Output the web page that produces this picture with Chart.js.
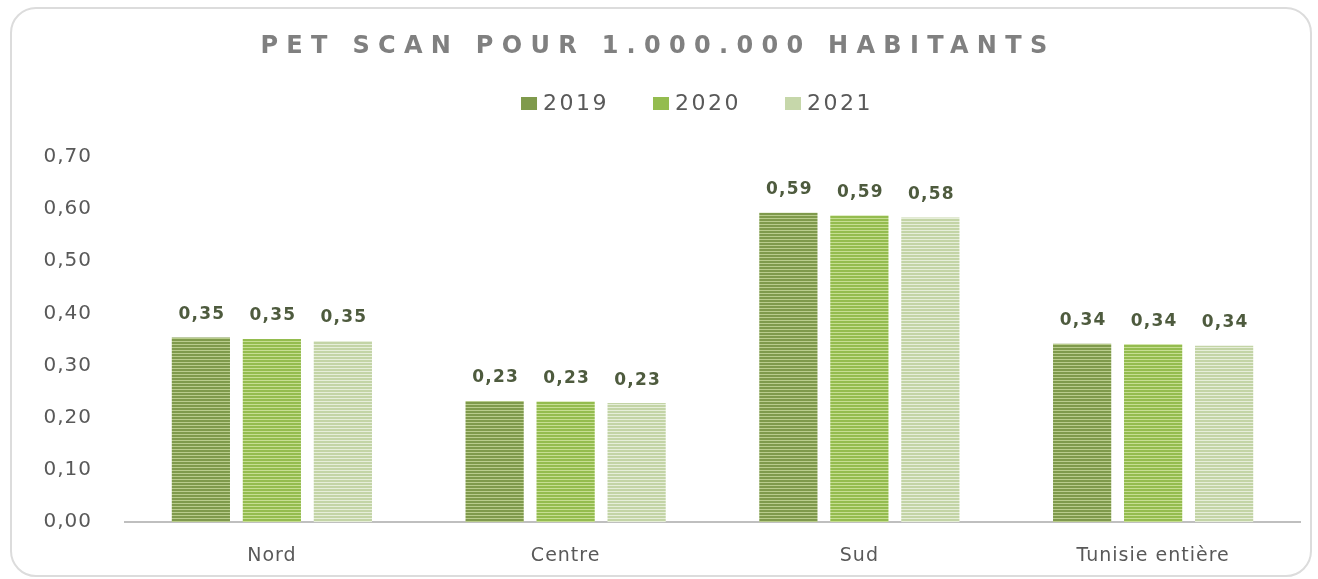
<!DOCTYPE html>
<html>
<head>
<meta charset="utf-8">
<script src="https://cdn.jsdelivr.net/npm/chart.js@4"></script>
<style>
  html, body { margin: 0; padding: 0; background: #fff; }
  #frame {
    position: absolute; left: 10px; top: 7px; width: 1298px; height: 566px;
    border: 2px solid #dcdcdc; border-radius: 26px;
  }
  #chart { position: absolute; left: 0; top: 0; }
</style>
</head>
<body>
<div id="frame"></div>
<canvas id="chart" width="1318" height="579"></canvas>
<script>
// chart data
var titleText = 'PET SCAN POUR 1.000.000 HABITANTS';
var categories = ['Nord', 'Centre', 'Sud', 'Tunisie entière'];
var years = ['2019', '2020', '2021'];
var values2019 = [0.354, 0.232, 0.593, 0.342];
var values2020 = [0.351, 0.231, 0.588, 0.341];
var values2021 = [0.347, 0.228, 0.584, 0.338];
var yTicks = [0, 0.1, 0.2, 0.3, 0.4, 0.5, 0.6, 0.7];

// striped fill like the Excel bars
function stripes(dark, light) {
  var c = document.createElement('canvas');
  c.width = 4; c.height = 3;
  var g = c.getContext('2d');
  g.fillStyle = dark; g.fillRect(0, 0, 4, 2);
  g.fillStyle = light; g.fillRect(0, 2, 4, 1);
  return g.createPattern(c, 'repeat');
}

var swatches = ['#7f9a4c', '#94bc4f', '#c6d7aa'];
var fills = [
  stripes('#7f9a4c', '#b9cc8c'),
  stripes('#94bc4f', '#c6de92'),
  stripes('#c3d4a6', '#e6eed9')
];

function fmt(v) { return v.toFixed(2).replace('.', ','); }

// title, legend and value labels drawn by hand (letter spacing)
var decorations = {
  id: 'decorations',
  beforeDraw: function(chart) {
    chart.ctx.letterSpacing = '1px';
  },
  beforeDatasetsDraw: function(chart) {
    chart.ctx.letterSpacing = '0px';
  },
  afterDraw: function(chart) {
    var ctx = chart.ctx;
    ctx.save();
    // title
    ctx.font = 'bold 24px "DejaVu Sans"';
    ctx.letterSpacing = '8.3px';
    ctx.fillStyle = '#808080';
    ctx.textAlign = 'center';
    ctx.textBaseline = 'middle';
    ctx.fillText(titleText, 658, 47);

    // legend
    ctx.font = '22px "DejaVu Sans"';
    ctx.letterSpacing = '2.5px';
    ctx.textAlign = 'left';
    var gap = 44, box = 16, items = [], total = 0;
    chart.data.datasets.forEach(function(ds, i) {
      var w = box + 6 + ctx.measureText(ds.label).width;
      items.push(w);
      total += w + (i ? gap : 0);
    });
    var x = 697 - total / 2;
    chart.data.datasets.forEach(function(ds, i) {
      ctx.fillStyle = swatches[i];
      ctx.fillRect(x, 97, box, 13);
      ctx.fillStyle = '#595959';
      ctx.fillText(ds.label, x + box + 6, 104);
      x += items[i] + gap;
    });

    // value labels
    ctx.font = 'bold 17px "DejaVu Sans"';
    ctx.letterSpacing = '1.2px';
    ctx.textAlign = 'center';
    ctx.fillStyle = '#4e5b3e';
    chart.data.datasets.forEach(function(ds, i) {
      chart.getDatasetMeta(i).data.forEach(function(bar, j) {
        ctx.fillText(fmt(ds.data[j]), bar.x + 1, bar.y - 23);
      });
    });
    ctx.restore();
  }
};

new Chart(document.getElementById('chart').getContext('2d'), {
  type: 'bar',
  data: {
    labels: categories,
    datasets: [
      { label: years[0], data: values2019, backgroundColor: fills[0] },
      { label: years[1], data: values2020, backgroundColor: fills[1] },
      { label: years[2], data: values2021, backgroundColor: fills[2] }
    ]
  },
  options: {
    responsive: false,
    animation: false,
    layout: { padding: { top: 157, right: 18, bottom: 0, left: 0 } },
    datasets: { bar: { categoryPercentage: 0.725, barPercentage: 0.82 } },
    plugins: {
      legend: { display: false },
      title: { display: false },
      tooltip: { enabled: false }
    },
    scales: {
      x: {
        grid: { display: false, drawTicks: false },
        border: { color: '#bfbfbf', width: 2 },
        ticks: { color: '#595959', font: { family: 'DejaVu Sans', size: 19 }, padding: 23 },
        afterFit: function(s) { s.height = 57; }
      },
      y: {
        min: 0,
        max: 0.7,
        grid: { display: false, drawTicks: false },
        border: { display: false },
        afterBuildTicks: function(s) { s.ticks = yTicks.map(function(v) { return { value: v }; }); },
        ticks: {
          color: '#595959',
          font: { family: 'DejaVu Sans', size: 20 },
          padding: 33,
          callback: function(v) { return fmt(v); }
        },
        afterFit: function(s) { s.width = 125; }
      }
    }
  },
  plugins: [decorations]
});
</script>
</body>
</html>
